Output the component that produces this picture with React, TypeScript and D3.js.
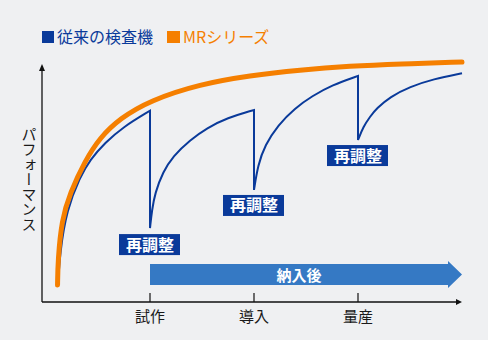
import React from "react";
import * as d3 from "d3";

const W = 488;
const H = 340;

const legendLabels = ["従来の検査機", "MRシリーズ"];
const yAxisLabel = "パフォーマンス";
const tickValues = [1, 2, 3];
const tickLabels = ["試作", "導入", "量産"];
const readjustLabel = "再調整";
const afterDeliveryLabel = "納入後";

// MR series (orange) — [time, performance]
const mrSeries: [number, number][] = [
  [0.111, 7.1], [0.115, 17.5], [0.151, 34.2], [0.231, 45.4], [0.375, 58.8],
  [0.519, 68.5], [0.712, 76.5], [1.0, 84.0], [1.481, 90.8], [1.962, 94.4],
  [2.442, 96.7], [2.923, 98.3], [3.404, 99.2], [4.0, 100],
];

// Conventional inspector (blue) — segments between readjustments
const convSeg1: [number, number][] = [
  [0.115, 7.1], [0.135, 20.8], [0.199, 38.3], [0.327, 52.1], [0.423, 59.2],
  [0.567, 66.3], [0.74, 72.9], [1.0, 79.7],
];
const convSeg2: [number, number][] = [
  [1.0, 30.8], [1.019, 38.3], [1.048, 45.4], [1.125, 54.2], [1.221, 60.8],
  [1.385, 67.5], [1.548, 72.5], [1.74, 76.7], [2.0, 80],
];
const convSeg3: [number, number][] = [
  [2.0, 46.7], [2.038, 57.1], [2.106, 65.4], [2.231, 73.75], [2.394, 80.8],
  [2.558, 85.8], [2.75, 90.4], [3.0, 94.2],
];
const convSeg4: [number, number][] = [
  [3.0, 67.5], [3.051, 73.0], [3.115, 77.2], [3.18, 80.7], [3.308, 85.5],
  [3.5, 89.7], [3.724, 92.9], [4.0, 95.3],
];
const convSegments = [convSeg1, convSeg2, convSeg3, convSeg4];

// readjust label positions: [time, performance at box top]
const readjustMarks: [number, number][] = [
  [1.0, 28.3],
  [2.0, 44.6],
  [3.0, 65.4],
];

const BLUE = "#0a3a9a";
const ORANGE = "#f57f00";
const ARROW = "#3579c4";
const BG = "#eff0f2";
const FONT = "'Noto Sans CJK JP', 'Noto Sans', sans-serif";

export default function App() {
  const x = d3.scaleLinear().domain([0, 4]).range([46, 462]);
  const y = d3.scaleLinear().domain([0, 100]).range([302, 62]);
  const x0 = 42;
  const yBase = 302;

  const line = d3
    .line<[number, number]>()
    .x((d) => x(d[0]))
    .y((d) => y(d[1]))
    .curve(d3.curveBasis);

  const mrPath = line(mrSeries) || "";
  const convPath = convSegments
    .map((seg, i) => {
      const p = line(seg) || "";
      return i === 0 ? p : "L" + p.slice(1);
    })
    .join("");

  const arrowY0 = 264;
  const arrowY1 = 285;
  const arrowStart = x(1);
  const arrowHeadX = 448;
  const arrowTip = x(4);

  return (
    <svg
      width={W}
      height={H}
      style={{ position: "absolute", left: 0, top: 0, background: BG, fontFamily: FONT }}
    >
      <rect x={0} y={0} width={W} height={H} fill={BG} />

      {/* legend */}
      <rect x={42} y={31} width={12} height={12} fill={BLUE} />
      <text x={57} y={43} fill={BLUE} fontSize={16}>
        {legendLabels[0]}
      </text>
      <rect x={167} y={31} width={13} height={12} fill={ORANGE} />
      <text x={183} y={43} fill={ORANGE} fontSize={16}>
        {legendLabels[1]}
      </text>

      {/* axes */}
      <line x1={x0} y1={yBase} x2={x0} y2={70} stroke="#111" strokeWidth={1.3} />
      <path d={`M${x0 - 3},71 L${x0},64 L${x0 + 3},71 Z`} fill="#111" />
      <line x1={x0} y1={yBase} x2={x(4) - 4} y2={yBase} stroke="#111" strokeWidth={1.3} />
      <path d={`M${x(4) - 6},${yBase - 3} L${x(4)},${yBase} L${x(4) - 6},${yBase + 3} Z`} fill="#111" />
      {tickValues.map((t, i) => (
        <g key={t}>
          <line x1={x(t)} y1={yBase - 9} x2={x(t)} y2={yBase} stroke="#111" strokeWidth={1.2} />
          <text x={x(t)} y={322} textAnchor="middle" fontSize={15} fill="#1a1a1a">
            {tickLabels[i]}
          </text>
        </g>
      ))}

      {/* y label */}
      <text
        x={29}
        y={127}
        fontSize={15}
        fill="#1a1a1a"
        style={{ writingMode: "vertical-rl" as any }}
      >
        {yAxisLabel}
      </text>

      {/* after-delivery arrow */}
      <path
        d={`M${arrowStart},${arrowY0} L${arrowHeadX},${arrowY0} L${arrowHeadX},261 L${arrowTip},274.5 L${arrowHeadX},288 L${arrowHeadX},${arrowY1} L${arrowStart},${arrowY1} Z`}
        fill={ARROW}
      />
      <text
        x={299}
        y={280.5}
        textAnchor="middle"
        fontSize={15}
        fontWeight="bold"
        fill="#fff"
      >
        {afterDeliveryLabel}
      </text>

      {/* curves */}
      <path d={convPath} fill="none" stroke={BLUE} strokeWidth={2} strokeLinejoin="miter" />
      <path d={mrPath} fill="none" stroke={ORANGE} strokeWidth={5} strokeLinecap="round" />

      {/* readjust labels */}
      {readjustMarks.map(([t, v], i) => (
        <g key={i}>
          <rect x={x(t) - 31} y={y(v)} width={61} height={21} fill={BLUE} />
          <text
            x={x(t)}
            y={y(v) + 16.5}
            textAnchor="middle"
            fontSize={16}
            fontWeight="bold"
            fill="#fff"
          >
            {readjustLabel}
          </text>
        </g>
      ))}
    </svg>
  );
}
